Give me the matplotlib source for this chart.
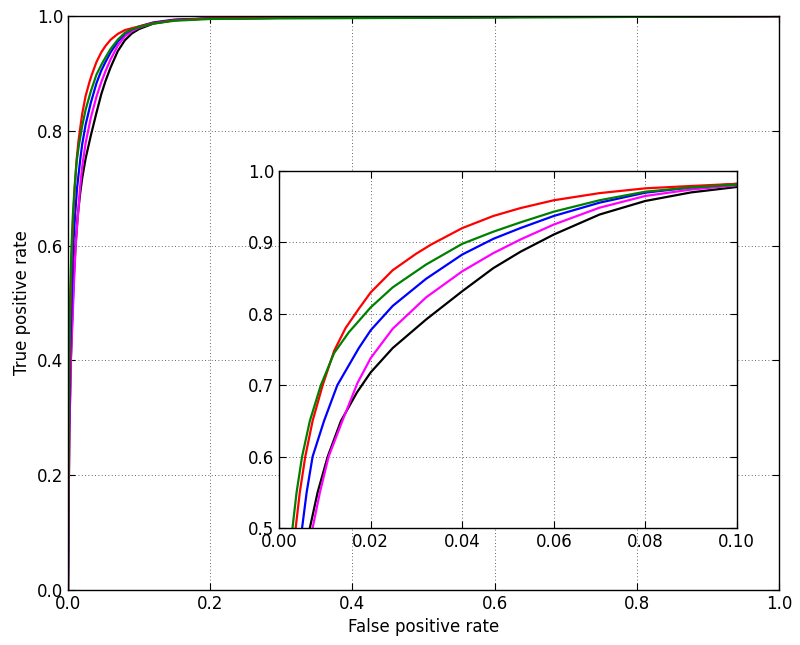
import matplotlib
matplotlib.use("Agg")
import matplotlib.pyplot as plt

# ROC curve data (false positive rate, true positive rate)
fpr_black = [0.0, 0.0008, 0.002, 0.004, 0.0067, 0.0084, 0.0106, 0.0135, 0.017, 0.02, 0.0248, 0.0321, 0.04, 0.0468, 0.0527, 0.06, 0.07, 0.08, 0.09, 0.1, 0.12, 0.15, 0.2, 0.3, 0.5, 0.7, 1.0]
tpr_black = [0.0, 0.14, 0.28, 0.40, 0.5, 0.55, 0.6, 0.65, 0.69, 0.718, 0.752, 0.792, 0.8316, 0.864, 0.8868, 0.911, 0.939, 0.958, 0.970, 0.9776, 0.987, 0.993, 0.996, 0.997, 0.998, 0.999, 1.0]

fpr_magenta = [0.0, 0.0008, 0.002, 0.004, 0.0073, 0.0089, 0.0108, 0.0138, 0.0171, 0.02, 0.0248, 0.0321, 0.04, 0.0468, 0.0527, 0.06, 0.07, 0.08, 0.09, 0.1, 0.12, 0.15, 0.2, 0.3, 0.5, 0.7, 1.0]
tpr_magenta = [0.0, 0.14, 0.28, 0.40, 0.5, 0.55, 0.6, 0.65, 0.703, 0.738, 0.779, 0.823, 0.8595, 0.885, 0.904, 0.925, 0.9486, 0.965, 0.974, 0.980, 0.988, 0.993, 0.996, 0.997, 0.998, 0.999, 1.0]

fpr_blue = [0.0, 0.0006, 0.0015, 0.003, 0.005, 0.006, 0.0073, 0.0098, 0.0127, 0.0174, 0.02, 0.0248, 0.0321, 0.04, 0.0468, 0.0527, 0.06, 0.07, 0.08, 0.09, 0.1, 0.12, 0.15, 0.2, 0.3, 0.5, 0.7, 1.0]
tpr_blue = [0.0, 0.15, 0.29, 0.41, 0.5, 0.55, 0.6, 0.65, 0.7, 0.752, 0.777, 0.811, 0.849, 0.883, 0.905, 0.920, 0.937, 0.9556, 0.9696, 0.977, 0.982, 0.989, 0.994, 0.996, 0.997, 0.998, 0.999, 1.0]

fpr_red = [0.0, 0.0005, 0.001, 0.002, 0.0028, 0.0036, 0.0045, 0.0057, 0.0073, 0.0095, 0.012, 0.0145, 0.0174, 0.02, 0.0248, 0.0299, 0.0332, 0.04, 0.0468, 0.0527, 0.06, 0.07, 0.08, 0.09, 0.1, 0.12, 0.15, 0.2, 0.3, 0.5, 0.7, 1.0]
tpr_red = [0.0, 0.15, 0.27, 0.38, 0.45, 0.5, 0.55, 0.6, 0.65, 0.7, 0.748, 0.78, 0.807, 0.83, 0.861, 0.884, 0.897, 0.92, 0.937, 0.948, 0.959, 0.969, 0.9757, 0.979, 0.982, 0.988, 0.993, 0.996, 0.997, 0.998, 0.999, 1.0]

fpr_green = [0.0, 0.0004, 0.0009, 0.0018, 0.0029, 0.0038, 0.005, 0.0067, 0.0091, 0.012, 0.0152, 0.0174, 0.02, 0.0248, 0.0321, 0.04, 0.0468, 0.0527, 0.06, 0.07, 0.08, 0.09, 0.1, 0.12, 0.15, 0.2, 0.3, 0.5, 0.7, 1.0]
tpr_green = [0.0, 0.16, 0.29, 0.41, 0.5, 0.55, 0.6, 0.65, 0.7, 0.745, 0.774, 0.79, 0.809, 0.837, 0.869, 0.898, 0.915, 0.928, 0.943, 0.959, 0.971, 0.977, 0.981, 0.987, 0.992, 0.995, 0.996, 0.997, 0.998, 1.0]

series = [
    (fpr_black, tpr_black, "black"),
    (fpr_magenta, tpr_magenta, "magenta"),
    (fpr_blue, tpr_blue, "blue"),
    (fpr_red, tpr_red, "red"),
    (fpr_green, tpr_green, "green"),
]

main_ticks = [0.0, 0.2, 0.4, 0.6, 0.8, 1.0]
inset_xticks = [0.0, 0.02, 0.04, 0.06, 0.08, 0.10]
inset_yticks = [0.5, 0.6, 0.7, 0.8, 0.9, 1.0]

plt.rcParams['font.family'] = ['DejaVu Sans']
plt.rcParams['font.size'] = 12

fig = plt.figure(figsize=(8.0, 6.45), dpi=100)

def style(ax):
    ax.grid(True, color="black", linestyle=(0, (1, 3)), linewidth=0.6, alpha=0.8)
    ax.tick_params(direction="in", top=True, right=True, length=5, labelsize=12)
    for s in ax.spines.values():
        s.set_linewidth(1.0)

ax = fig.add_axes([0.085, 0.0853, 0.889, 0.8897])
for x, y, c in series:
    ax.plot(x, y, color=c, linewidth=1.6, solid_joinstyle="round")
ax.set_xlim(0, 1)
ax.set_ylim(0, 1)
ax.set_xticks(main_ticks)
ax.set_yticks(main_ticks)
ax.set_xticklabels([f"{t:.1f}" for t in main_ticks])
ax.set_yticklabels([f"{t:.1f}" for t in main_ticks])
ax.set_xlabel("False positive rate", fontsize=12)
ax.set_ylabel("True positive rate", fontsize=12)
style(ax)

ins = fig.add_axes([0.349, 0.1814, 0.572, 0.5535])
for x, y, c in series:
    ins.plot(x, y, color=c, linewidth=1.6, solid_joinstyle="round")
ins.set_xlim(0, 0.1)
ins.set_ylim(0.5, 1.0)
ins.set_xticks(inset_xticks)
ins.set_yticks(inset_yticks)
ins.set_xticklabels([f"{t:.2f}" for t in inset_xticks])
ins.set_yticklabels([f"{t:.1f}" for t in inset_yticks])
style(ins)

fig.savefig("out.png", dpi=100)
